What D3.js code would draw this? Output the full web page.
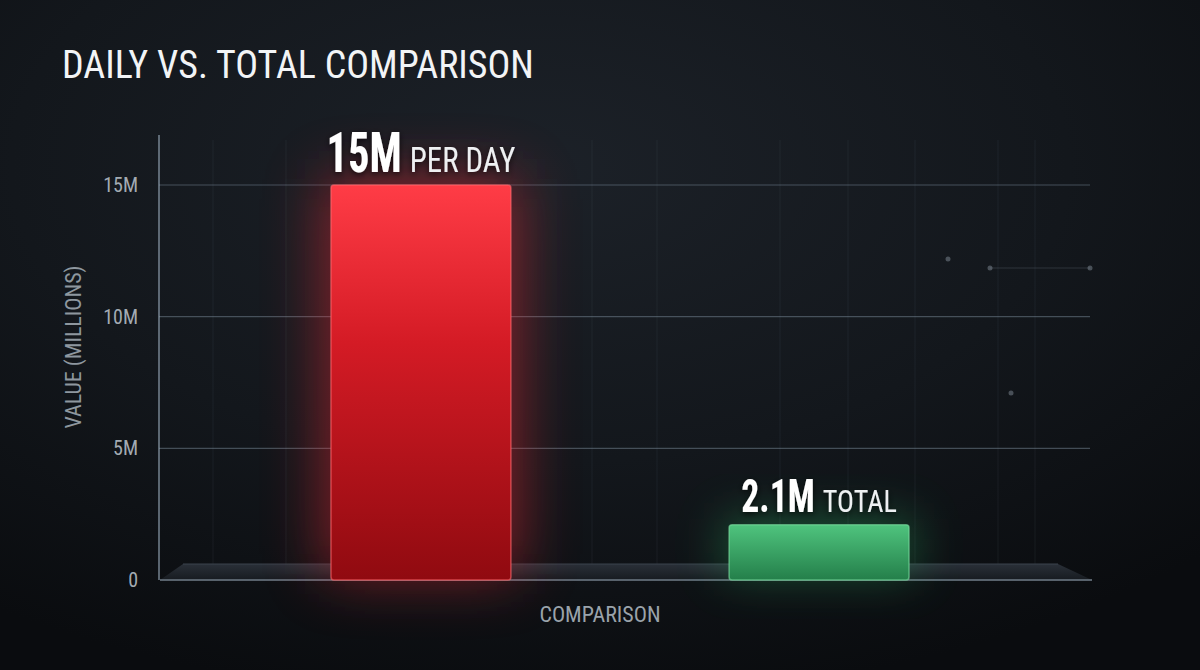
<!DOCTYPE html>
<html>
<head>
<meta charset="utf-8">
<script src="https://cdn.jsdelivr.net/npm/d3@7"></script>
<style>
  html, body { margin: 0; padding: 0; background: #0d1014; }
  svg { display: block; }
  .cond { font-family: "Roboto Condensed", "Liberation Sans Narrow", "DejaVu Sans Condensed", Roboto, sans-serif; }
</style>
</head>
<body>
<div id="chart"></div>
<script>
// Chart data
const categories = ["Per day", "Total"];
const values = [15, 2.1];
const valueLabels = ["15M", "2.1M"];
const unitLabels = ["PER DAY", "TOTAL"];
const tickValues = [0, 5, 10, 15];
const tickLabels = ["0", "5M", "10M", "15M"];
// faint background decoration
const decoVerticals = [213, 286, 592, 657, 780, 848, 915, 998, 1035];
const decoDots = [[990, 268], [1090, 268], [948, 259], [1011, 393]];

const width = 1200;
const height = 670;

const svg = d3.select("#chart").append("svg")
  .attr("width", width)
  .attr("height", height);

const defs = svg.append("defs");

// Background gradient
const bg = defs.append("radialGradient").attr("id", "bg")
  .attr("cx", "45%").attr("cy", "25%").attr("r", "80%");
bg.append("stop").attr("offset", "0%").attr("stop-color", "#1c2128");
bg.append("stop").attr("offset", "55%").attr("stop-color", "#13171c");
bg.append("stop").attr("offset", "100%").attr("stop-color", "#0a0c0f");

const redGrad = defs.append("linearGradient").attr("id", "redGrad")
  .attr("x1", 0).attr("y1", 0).attr("x2", 0).attr("y2", 1);
redGrad.append("stop").attr("offset", "0%").attr("stop-color", "#ff3c46");
redGrad.append("stop").attr("offset", "40%").attr("stop-color", "#d41b25");
redGrad.append("stop").attr("offset", "100%").attr("stop-color", "#900a10");

const greenGrad = defs.append("linearGradient").attr("id", "greenGrad")
  .attr("x1", 0).attr("y1", 0).attr("x2", 0).attr("y2", 1);
greenGrad.append("stop").attr("offset", "0%").attr("stop-color", "#4fc47e");
greenGrad.append("stop").attr("offset", "100%").attr("stop-color", "#247f4a");

const floorGrad = defs.append("linearGradient").attr("id", "floorGrad")
  .attr("x1", 0).attr("y1", 0).attr("x2", 0).attr("y2", 1);
floorGrad.append("stop").attr("offset", "0%").attr("stop-color", "#2a3038");
floorGrad.append("stop").attr("offset", "100%").attr("stop-color", "#171b20");

function glowFilter(id, blur) {
  const f = defs.append("filter").attr("id", id)
    .attr("x", "-80%").attr("y", "-80%").attr("width", "260%").attr("height", "260%");
  f.append("feGaussianBlur").attr("stdDeviation", blur);
}
glowFilter("glowRed", 30);
glowFilter("glowGreen", 24);

const shadow = defs.append("filter").attr("id", "textShadow")
  .attr("x", "-20%").attr("y", "-40%").attr("width", "140%").attr("height", "180%");
shadow.append("feDropShadow").attr("dx", 0).attr("dy", 2)
  .attr("stdDeviation", 3).attr("flood-color", "#000").attr("flood-opacity", 0.7);

svg.append("rect").attr("width", width).attr("height", height).attr("fill", "url(#bg)");

// Scales
const x = d3.scaleBand()
  .domain(categories)
  .range([155, 1085])
  .paddingInner(0.548)
  .paddingOuter(0.442);

const y = d3.scaleLinear()
  .domain([0, 15])
  .range([580, 185]);

// Decorative verticals
svg.append("g").selectAll("line")
  .data(decoVerticals)
  .enter().append("line")
  .attr("x1", d => d).attr("x2", d => d)
  .attr("y1", 140).attr("y2", 575)
  .attr("stroke", "#5d6b78")
  .attr("stroke-opacity", 0.13)
  .attr("stroke-width", 1);

svg.append("line")
  .attr("x1", 990).attr("x2", 1090).attr("y1", 268).attr("y2", 268)
  .attr("stroke", "#6d7a86").attr("stroke-opacity", 0.3);
svg.append("g").selectAll("circle")
  .data(decoDots)
  .enter().append("circle")
  .attr("cx", d => d[0]).attr("cy", d => d[1])
  .attr("r", 2.5)
  .attr("fill", "#9aa8b4")
  .attr("fill-opacity", 0.4);

// Horizontal gridlines
svg.append("g").selectAll("line")
  .data(tickValues.filter(d => d > 0))
  .enter().append("line")
  .attr("x1", 159).attr("x2", 1090)
  .attr("y1", d => y(d)).attr("y2", d => y(d))
  .attr("stroke", "#8294a3")
  .attr("stroke-opacity", 0.45)
  .attr("stroke-width", 1.2);

// Floor platform
const floor = [[160, 580], [183, 564], [1058, 564], [1092, 580]];
svg.append("path")
  .attr("d", d3.line()(floor) + "Z")
  .attr("fill", "url(#floorGrad)");
svg.append("line")
  .attr("x1", 183).attr("x2", 1058).attr("y1", 564).attr("y2", 564)
  .attr("stroke", "#3b434c").attr("stroke-width", 1);
svg.append("line")
  .attr("x1", 160).attr("x2", 1092).attr("y1", 580).attr("y2", 580)
  .attr("stroke", "#58626c").attr("stroke-width", 2);

// Y axis line
svg.append("line")
  .attr("x1", 159).attr("x2", 159)
  .attr("y1", 135).attr("y2", 580)
  .attr("stroke", "#9fb4c4").attr("stroke-opacity", 0.7).attr("stroke-width", 1.5);

// Y axis tick labels
const yAxis = d3.axisLeft(y)
  .tickValues(tickValues)
  .tickFormat((d, i) => tickLabels[i])
  .tickSize(0)
  .tickPadding(21);
const yG = svg.append("g")
  .attr("transform", "translate(159,0)")
  .call(yAxis);
yG.select(".domain").remove();
yG.selectAll("text")
  .attr("class", "cond")
  .attr("fill", "#a3abb3")
  .style("font-size", "20px");

// Glow behind bars
const colors = ["#ff2a36", "#2fbf6a"];
svg.append("g").selectAll("rect")
  .data(values)
  .enter().append("rect")
  .attr("x", (d, i) => x(categories[i]) - 6)
  .attr("y", d => y(d) - 6)
  .attr("width", x.bandwidth() + 12)
  .attr("height", d => y(0) - y(d))
  .attr("fill", (d, i) => colors[i])
  .attr("opacity", (d, i) => i === 0 ? 0.5 : 0.38)
  .attr("filter", (d, i) => i === 0 ? "url(#glowRed)" : "url(#glowGreen)");

// Bars
svg.append("g").selectAll("rect")
  .data(values)
  .enter().append("rect")
  .attr("x", (d, i) => x(categories[i]))
  .attr("y", d => y(d))
  .attr("width", x.bandwidth())
  .attr("height", d => y(0) - y(d))
  .attr("rx", 3)
  .attr("fill", (d, i) => i === 0 ? "url(#redGrad)" : "url(#greenGrad)")
  .attr("stroke", (d, i) => i === 0 ? "#ff6a70" : "#7de0a2")
  .attr("stroke-opacity", 0.6)
  .attr("stroke-width", 1.5);

// Value labels above bars (condensed bold number + unit), centred on bar
const valueSize = [56, 47];
const unitSize = [35, 32];
values.forEach(function (v, i) {
  const g = svg.append("g").attr("filter", "url(#textShadow)");
  const num = g.append("text")
    .attr("class", "cond")
    .attr("font-weight", "bold")
    .attr("fill", "#ffffff")
    .style("font-size", valueSize[i] + "px")
    .text(valueLabels[i]);
  const unit = g.append("text")
    .attr("class", "cond")
    .attr("fill", "#eef0f2")
    .style("font-size", unitSize[i] + "px")
    .text(unitLabels[i]);
  const numW = num.node().getComputedTextLength() * 0.76;
  const unitW = unit.node().getComputedTextLength() * 0.88;
  const gap = 8;
  const total = numW + gap + unitW;
  const left = x(categories[i]) + x.bandwidth() / 2 - total / 2;
  const base = y(v) - 13;
  num.attr("transform", `translate(${left},${base}) scale(0.76,1)`);
  unit.attr("transform", `translate(${left + numW + gap},${base}) scale(0.88,1)`);
});

// Title
svg.append("text")
  .attr("class", "cond")
  .attr("x", 62).attr("y", 78)
  .attr("fill", "#f2f4f6")
  .style("font-size", "38px")
  .text("DAILY VS. TOTAL COMPARISON");

// Axis titles
svg.append("text")
  .attr("class", "cond")
  .attr("transform", "translate(81,347) rotate(-90)")
  .attr("text-anchor", "middle")
  .attr("fill", "#8e979f")
  .style("font-size", "22px")
  .text("VALUE (MILLIONS)");

svg.append("text")
  .attr("class", "cond")
  .attr("x", 600).attr("y", 622)
  .attr("text-anchor", "middle")
  .attr("fill", "#9aa3ab")
  .style("font-size", "22px")
  .text("COMPARISON");
</script>
</body>
</html>
